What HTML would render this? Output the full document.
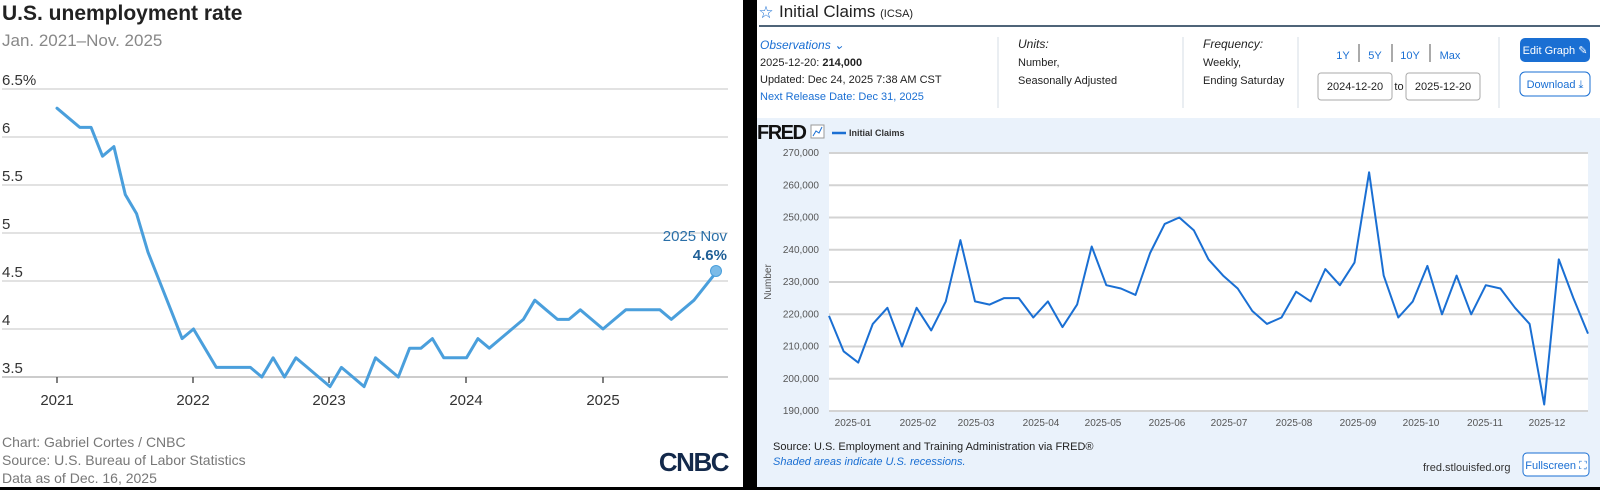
<!DOCTYPE html>
<html><head><meta charset="utf-8"><style>
html,body{margin:0;padding:0;background:#000;}
svg{display:block;font-family:"Liberation Sans",sans-serif;}
</style></head><body>
<svg id="s" width="1600" height="490" viewBox="0 0 1600 490" xmlns="http://www.w3.org/2000/svg">
<rect x="0" y="0" width="1600" height="490" fill="#000"/>
<!-- Left panel -->
<rect x="0" y="0" width="743" height="487" fill="#fff"/>
<text x="2" y="20" font-size="21" font-weight="bold" fill="#222">U.S. unemployment rate</text>
<text x="2" y="46" font-size="17" fill="#888">Jan. 2021–Nov. 2025</text>
<g stroke="#e2e2e2" stroke-width="2">
<line x1="2" x2="728" y1="89" y2="89"/><line x1="2" x2="728" y1="137" y2="137"/>
<line x1="2" x2="728" y1="185" y2="185"/><line x1="2" x2="728" y1="233" y2="233"/>
<line x1="2" x2="728" y1="281" y2="281"/><line x1="2" x2="728" y1="329" y2="329"/>
</g>
<line x1="2" x2="728" y1="377" y2="377" stroke="#ccc" stroke-width="2"/>
<g font-size="15" fill="#333">
<text x="2" y="85">6.5%</text><text x="2" y="133">6</text><text x="2" y="181">5.5</text>
<text x="2" y="229">5</text><text x="2" y="277">4.5</text><text x="2" y="325">4</text><text x="2" y="373">3.5</text>
</g>
<g stroke="#555" stroke-width="1.5">
<line x1="57" x2="57" y1="377" y2="383"/><line x1="193" x2="193" y1="377" y2="383"/>
<line x1="329" x2="329" y1="377" y2="383"/><line x1="466" x2="466" y1="377" y2="383"/>
<line x1="603" x2="603" y1="377" y2="383"/>
</g>
<g font-size="15" fill="#333" text-anchor="middle">
<text x="57" y="405">2021</text><text x="193" y="405">2022</text><text x="329" y="405">2023</text>
<text x="466" y="405">2024</text><text x="603" y="405">2025</text>
</g>
<polyline id="ul" fill="none" stroke="#4a9fdc" stroke-width="3" stroke-linejoin="round" stroke-linecap="round"/>
<circle cx="716" cy="271" r="5.5" fill="#7bbbe8" stroke="#4a9fdc" stroke-width="1"/>
<text x="727" y="241" font-size="15" fill="#2a6fa8" text-anchor="end">2025 Nov</text>
<text x="727" y="260" font-size="15" font-weight="bold" fill="#1f5f96" text-anchor="end">4.6%</text>
<g font-size="14" fill="#777">
<text x="2" y="447">Chart: Gabriel Cortes / CNBC</text>
<text x="2" y="465">Source: U.S. Bureau of Labor Statistics</text>
<text x="2" y="483">Data as of Dec. 16, 2025</text>
</g>
<text x="728" y="471" font-size="26" font-weight="bold" fill="#13294b" text-anchor="end" letter-spacing="-1.5">CNBC</text>

<!-- Right panel -->
<rect x="757" y="0" width="843" height="487" fill="#fff"/>
<text x="766" y="18" font-size="17" fill="#1a6fd3" text-anchor="middle">☆</text>
<text x="779" y="17" font-size="17" fill="#222">Initial Claims <tspan font-size="11">(ICSA)</tspan></text>
<line x1="759" x2="1600" y1="26" y2="26" stroke="#4f6478" stroke-width="2"/>
<text x="760" y="49" font-size="12" font-style="italic" fill="#1a6fd3">Observations ⌄</text>
<text x="760" y="66" font-size="11" fill="#222">2025-12-20: <tspan font-weight="bold">214,000</tspan></text>
<text x="760" y="83" font-size="11" fill="#222">Updated: Dec 24, 2025 7:38 AM CST</text>
<text x="760" y="100" font-size="11" fill="#1a6fd3">Next Release Date: Dec 31, 2025</text>
<g stroke="#d6dde4" stroke-width="1">
<line x1="998" x2="998" y1="37" y2="108"/><line x1="1183" x2="1183" y1="37" y2="108"/>
<line x1="1298" x2="1298" y1="37" y2="108"/><line x1="1499" x2="1499" y1="37" y2="108"/>
</g>
<text x="1018" y="48" font-size="12" font-style="italic" fill="#222">Units:</text>
<text x="1018" y="66" font-size="11" fill="#222">Number,</text>
<text x="1018" y="84" font-size="11" fill="#222">Seasonally Adjusted</text>
<text x="1203" y="48" font-size="12" font-style="italic" fill="#222">Frequency:</text>
<text x="1203" y="66" font-size="11" fill="#222">Weekly,</text>
<text x="1203" y="84" font-size="11" fill="#222">Ending Saturday</text>
<g font-size="11" fill="#1a6fd3" text-anchor="middle">
<text x="1343" y="59">1Y</text><text x="1375" y="59">5Y</text><text x="1410" y="59">10Y</text><text x="1450" y="59">Max</text>
</g>
<g stroke="#555" stroke-width="1"><line x1="1359" x2="1359" y1="44" y2="62"/><line x1="1392" x2="1392" y1="44" y2="62"/><line x1="1430" x2="1430" y1="44" y2="62"/></g>
<rect x="1318" y="73" width="74" height="27" rx="3" fill="#fff" stroke="#aaa"/>
<rect x="1406" y="73" width="74" height="27" rx="3" fill="#fff" stroke="#aaa"/>
<text x="1355" y="90" font-size="11" fill="#222" text-anchor="middle">2024-12-20</text>
<text x="1399" y="90" font-size="11" fill="#222" text-anchor="middle">to</text>
<text x="1443" y="90" font-size="11" fill="#222" text-anchor="middle">2025-12-20</text>
<rect x="1520" y="38" width="70" height="24" rx="5" fill="#1a6fd3"/>
<text x="1555" y="54" font-size="11" fill="#fff" text-anchor="middle">Edit Graph ✎</text>
<rect x="1520" y="72" width="70" height="24" rx="5" fill="#fff" stroke="#1a6fd3"/>
<text x="1555" y="88" font-size="11" fill="#1a6fd3" text-anchor="middle">Download ⤓</text>

<rect x="757" y="118" width="843" height="369" fill="#eaf2fb"/>
<text x="757" y="139" font-size="20" font-weight="bold" fill="#111" letter-spacing="-1.5">FRED</text>
<rect x="811" y="125" width="13" height="13" fill="#fff" stroke="#999"/>
<polyline points="813,136 816,131 819,133 822,127" fill="none" stroke="#1a6fd3" stroke-width="1"/>
<line x1="832" x2="846" y1="133" y2="133" stroke="#1a6fd3" stroke-width="2.5"/>
<text x="849" y="136" font-size="9" font-weight="bold" fill="#333">Initial Claims</text>
<rect x="829" y="152" width="759" height="260" fill="#fff"/>
<g id="grid" stroke="#d3d3d3" stroke-width="2"></g>
<g id="ylab" font-size="10" fill="#555" text-anchor="end"></g>
<text x="0" y="0" font-size="10" fill="#555" text-anchor="middle" transform="translate(771,282) rotate(-90)">Number</text>
<g id="xlab" font-size="10" fill="#555" text-anchor="middle"></g>
<polyline id="fl" fill="none" stroke="#1a6fd3" stroke-width="2" stroke-linejoin="round"/>
<text x="773" y="450" font-size="11" fill="#222">Source: U.S. Employment and Training Administration via FRED®</text>
<text x="773" y="465" font-size="11" font-style="italic" fill="#1a6fd3">Shaded areas indicate U.S. recessions.</text>
<text x="1423" y="471" font-size="11" fill="#333">fred.stlouisfed.org</text>
<rect x="1523" y="453" width="66" height="23" rx="4" fill="#fff" stroke="#1a6fd3"/>
<text x="1556" y="469" font-size="11" fill="#1a6fd3" text-anchor="middle">Fullscreen ⛶</text>
</svg>
<script>
var u=[6.3,6.2,6.1,6.1,5.8,5.9,5.4,5.2,4.8,4.5,4.2,3.9,
4.0,3.8,3.6,3.6,3.6,3.6,3.5,3.7,3.5,3.7,3.6,3.5,
3.4,3.6,3.5,3.4,3.7,3.6,3.5,3.8,3.8,3.9,3.7,3.7,
3.7,3.9,3.8,3.9,4.0,4.1,4.3,4.2,4.1,4.1,4.2,4.1,
4.0,4.1,4.2,4.2,4.2,4.2,4.1,4.2,4.3,null,4.6];
var p=[];u.forEach(function(v,i){if(v!==null)p.push((57+i*11.375).toFixed(1)+","+(377-(v-3.5)*96).toFixed(1));});
document.getElementById("ul").setAttribute("points",p.join(" "));
var f=[219.5,208.5,205,217,222,210,222,215,224,243,224,223,225,225,219,224,216,223,241,229,228,226,239,248,250,246,237,232,228,221,217,219,227,224,234,229,236,264,232,219,224,235,220,232,220,229,228,222,217,192,237,225,214];
function fy(v){return 153+(270-v)/10*32.25;}
var q=f.map(function(v,i){return (829+i*759/52).toFixed(1)+","+fy(v).toFixed(1);});
document.getElementById("fl").setAttribute("points",q.join(" "));
var g="",yl="";for(var v=190;v<=270;v+=10){var y=fy(v);g+='<line x1="829" x2="1588" y1="'+y+'" y2="'+y+'"/>';yl+='<text x="819" y="'+(y+3)+'">'+v+',000</text>';}
document.getElementById("grid").innerHTML=g;document.getElementById("ylab").innerHTML=yl;
var xs=[853,918,976,1041,1103,1167,1229,1294,1358,1421,1485,1547],xl="";
xs.forEach(function(x,i){xl+='<text x="'+x+'" y="426">2025-'+(i<9?"0":"")+(i+1)+'</text>';});
document.getElementById("xlab").innerHTML=xl;
</script>
</body></html>
